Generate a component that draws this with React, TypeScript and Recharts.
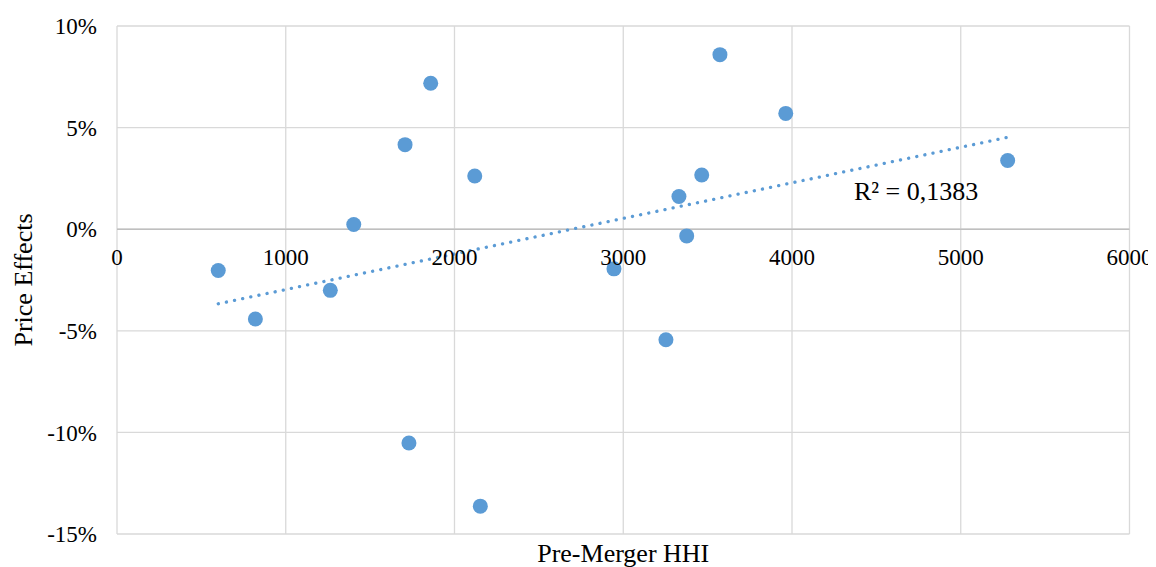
import React from 'react';
import {
  ScatterChart,
  Scatter,
  XAxis,
  YAxis,
  CartesianGrid,
  ReferenceLine,
  ReferenceDot,
} from 'recharts';

// ---- data ----
const hhi = [600, 820, 1264, 1403, 1707, 1730, 1859, 2120, 2153, 2945, 3253, 3330, 3376, 3465, 3573, 3963, 5278];
const priceEffect = [-2.03, -4.42, -3.01, 0.23, 4.16, -10.52, 7.18, 2.62, -13.63, -1.95, -5.44, 1.61, -0.33, 2.67, 8.59, 5.7, 3.38];

const trendX = [600, 5278];
const trendY = [-3.67, 4.52];

const xTicks = [0, 1000, 2000, 3000, 4000, 5000, 6000];
const yTicks = [-15, -10, -5, 0, 5, 10];

const r2Text = 'R² = 0,1383';
const r2Pos = { x: 4735, y: 1.9 };

const xTitle = 'Pre-Merger HHI';
const yTitle = 'Price Effects';

// ---- layout ----
const W = 1148;
const H = 559;
const MARGIN = { top: 18, right: 26.5, left: 0, bottom: 0 };
const Y_AXIS_W = 109;
const X_AXIS_H = 33;
const PLOT_TOP = MARGIN.top;
const PLOT_H = H - MARGIN.top - MARGIN.bottom - X_AXIS_H;
const Y_MIN = yTicks[0];
const Y_MAX = yTicks[yTicks.length - 1];
const ZERO_Y = PLOT_TOP + ((Y_MAX - 0) / (Y_MAX - Y_MIN)) * PLOT_H;

const FONT = "'Liberation Serif', 'Times New Roman', serif";
const BLUE = '#5b9bd5';

const points = hhi.map((x, i) => ({ x, y: priceEffect[i] }));
const trend = trendX.map((x, i) => ({ x, y: trendY[i] }));

const XTick = (props: any) => (
  <text
    x={props.x}
    y={ZERO_Y + 36}
    textAnchor="middle"
    fontSize={23}
    fontFamily={FONT}
    fill="#000"
  >
    {props.payload.value}
  </text>
);

const Dot = (props: any) => <circle cx={props.cx} cy={props.cy} r={7.5} fill={BLUE} />;
const NoShape = () => <g />;

export default function App() {
  return (
    <div>
      <style>{`body{overflow:hidden}`}</style>
      <ScatterChart width={W} height={H} margin={MARGIN}>
        <CartesianGrid stroke="#d9d9d9" strokeWidth={1.3} />
        <ReferenceLine y={0} stroke="#bfbfbf" strokeWidth={1.5} />
        <XAxis
          type="number"
          dataKey="x"
          domain={[0, 6000]}
          ticks={xTicks}
          interval={0}
          axisLine={false}
          tickLine={false}
          height={X_AXIS_H}
          tick={<XTick />}
          label={{
            value: xTitle,
            position: 'insideBottom',
            offset: 5,
            fontSize: 26,
            fontFamily: FONT,
            fill: '#000',
          }}
        />
        <YAxis
          type="number"
          dataKey="y"
          domain={[Y_MIN, Y_MAX]}
          ticks={yTicks}
          interval={0}
          width={Y_AXIS_W}
          axisLine={false}
          tickLine={false}
          tickSize={0}
          tickMargin={20}
          tickFormatter={(v: number) => `${v}%`}
          tick={{ fontSize: 23, fontFamily: FONT, fill: '#000' }}
          label={{
            value: yTitle,
            angle: -90,
            position: 'insideLeft',
            offset: 15,
            fontSize: 26,
            fontFamily: FONT,
            fill: '#000',
            style: { textAnchor: 'middle' },
          }}
        />
        <Scatter data={points} shape={<Dot />} isAnimationActive={false} />
        <Scatter
          data={trend}
          shape={<NoShape />}
          line={{
            stroke: BLUE,
            strokeWidth: 3.3,
            strokeDasharray: '0.1 8.2',
            strokeLinecap: 'round',
          }}
          isAnimationActive={false}
        />
        <ReferenceDot
          x={r2Pos.x}
          y={r2Pos.y}
          r={0}
          fill="none"
          stroke="none"
          label={{
            value: r2Text,
            position: 'center',
            fontSize: 26,
            fontFamily: FONT,
            fill: '#000',
          }}
        />
      </ScatterChart>
    </div>
  );
}
